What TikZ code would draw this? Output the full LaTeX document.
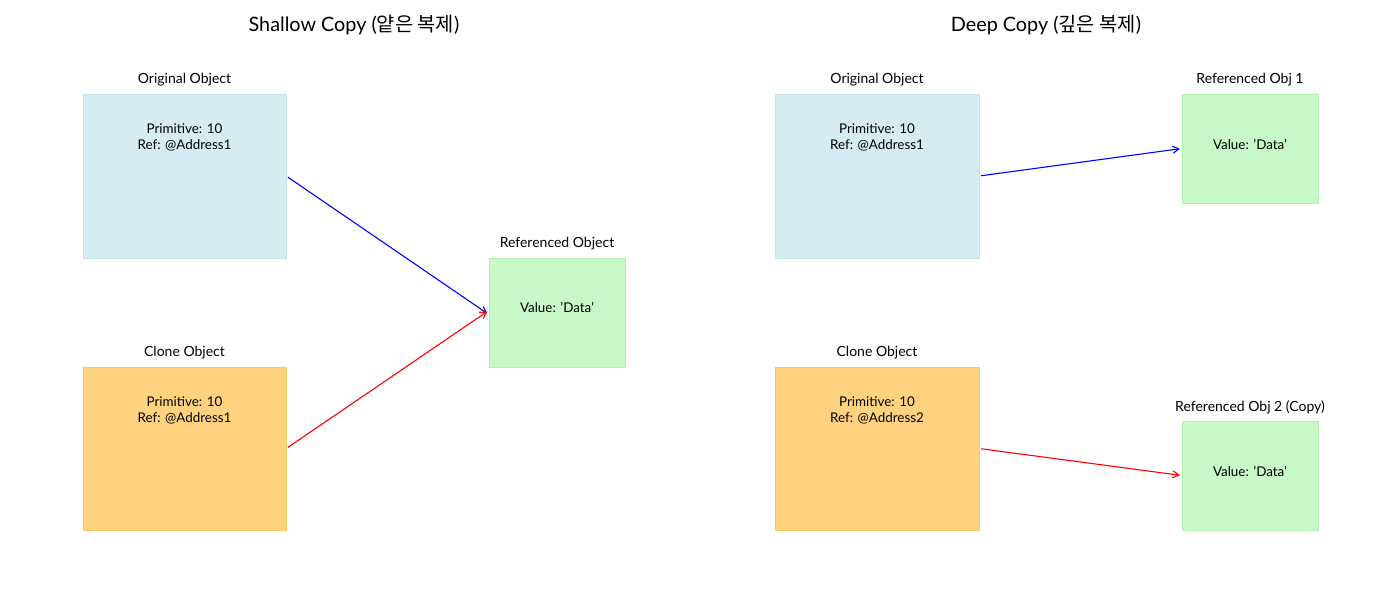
\documentclass[tikz,border=0pt]{standalone}
\usepackage{fontspec}
\setmainfont{Lato}
\newfontfamily\kr{Noto Sans CJK KR}
\usetikzlibrary{arrows.meta}
\definecolor{fblue}{HTML}{D6ECF3}
\definecolor{eblue}{HTML}{C6E4EE}
\definecolor{forange}{HTML}{FFD280}
\definecolor{eorange}{HTML}{FFC766}
\definecolor{fgreen}{HTML}{C8F7C8}
\definecolor{egreen}{HTML}{B4F2B4}
\begin{document}
\begin{tikzpicture}[x=1pt,y=-1pt,
  lbl/.style={font=\fontsize{14}{16}\selectfont, anchor=base},
  body/.style={font=\fontsize{13.4}{15.5}\selectfont, align=center, anchor=base},
  ttl/.style={font=\fontsize{19.8}{22}\selectfont, anchor=base},
  arr/.style={line width=1.1pt, -{Straight Barb[length=6pt,width=7pt]}, shorten <=2pt, shorten >=2pt}]
\useasboundingbox (0,0) rectangle (1400,600);
% titles
\node[ttl] (t1) at (354,31) {Shallow Copy ({\kr 얕은 복제})};
\node[ttl] (t2) at (1046,31) {Deep Copy ({\kr 깊은 복제})};
% left
\fill[fblue] (83,94) rectangle (286,258);
\draw[eblue, line width=0.8pt] (83,94) rectangle (286,258);
\node[inner sep=0pt, minimum width=203pt, minimum height=164pt] (lo) at (184.5,176) {};
\fill[forange] (83,367) rectangle (286,530);
\draw[eorange, line width=0.8pt] (83,367) rectangle (286,530);
\node[inner sep=0pt, minimum width=203pt, minimum height=163pt] (lc) at (184.5,448.5) {};
\fill[fgreen] (489,258) rectangle (625,367);
\draw[egreen, line width=0.8pt] (489,258) rectangle (625,367);
\node[inner sep=0pt, minimum width=136pt, minimum height=109pt] (lr) at (557,312.5) {};
\node[lbl] (lol) at (184.5,83) {Original Object};
\node[lbl] (lcl) at (184.5,356) {Clone Object};
\node[lbl] (lrl) at (557,247) {Referenced Object};
\node[body] (lot) at (184.5,149) {Primitive: 10\\Ref: @Address1};
\node[body] (lct) at (184.5,422) {Primitive: 10\\Ref: @Address1};
\node[body] (lrt) at (557,312) {Value: 'Data'};
\draw[arr, blue] (lo.east) -- ([yshift=-2pt]lr.west);
\draw[arr, red] (lc.east) -- ([yshift=2pt]lr.west);
% right
\fill[fblue] (775,94) rectangle (979,258);
\draw[eblue, line width=0.8pt] (775,94) rectangle (979,258);
\node[inner sep=0pt, minimum width=204pt, minimum height=164pt] (ro) at (877,176) {};
\fill[forange] (775,367) rectangle (979,530);
\draw[eorange, line width=0.8pt] (775,367) rectangle (979,530);
\node[inner sep=0pt, minimum width=204pt, minimum height=163pt] (rc) at (877,448.5) {};
\fill[fgreen] (1182,94) rectangle (1318,203);
\draw[egreen, line width=0.8pt] (1182,94) rectangle (1318,203);
\node[inner sep=0pt, minimum width=136pt, minimum height=109pt] (r1) at (1250,148.5) {};
\fill[fgreen] (1182,421) rectangle (1318,530);
\draw[egreen, line width=0.8pt] (1182,421) rectangle (1318,530);
\node[inner sep=0pt, minimum width=136pt, minimum height=109pt] (r2) at (1250,475.5) {};
\node[lbl] (rol) at (877,83) {Original Object};
\node[lbl] (rcl) at (877,356) {Clone Object};
\node[lbl] (r1l) at (1250,83) {Referenced Obj 1};
\node[lbl] (r2l) at (1250,411) {Referenced Obj 2 (Copy)};
\node[body] (rot) at (877,149) {Primitive: 10\\Ref: @Address1};
\node[body] (rct) at (877,422) {Primitive: 10\\Ref: @Address2};
\node[body] (r1t) at (1250,149) {Value: 'Data'};
\node[body] (r2t) at (1250,476) {Value: 'Data'};
\draw[arr, blue] (ro.east) -- (r1.west);
\draw[arr, red] (rc.east) -- (r2.west);
\end{tikzpicture}
\end{document}
